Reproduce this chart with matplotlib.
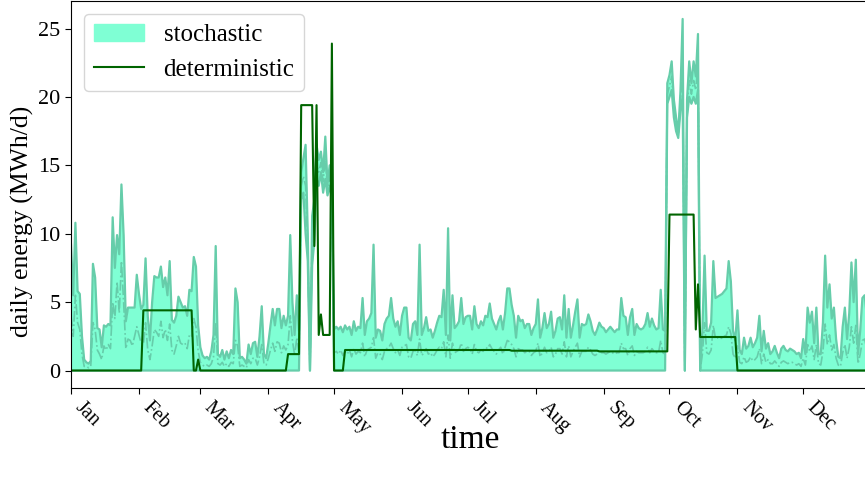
import numpy as np
import pandas as pd
import matplotlib
matplotlib.use("Agg")
import matplotlib.pyplot as plt
import matplotlib.dates as mdates
from matplotlib.patches import Patch
from matplotlib.lines import Line2D

plt.rcParams['font.family'] = ['Liberation Serif', 'DejaVu Serif']

days = pd.date_range('2019-01-01', '2019-12-31', freq='D')

# stochastic upper envelope, one list per month (MWh/d)
up_jan = [9.2, 5.5, 10.8, 5.8, 5.6, 2.5, 0.8, 0.6, 0.5, 0.7, 7.8, 6.8, 3.1, 3.0, 1.7, 3.3,
          3.2, 3.4, 3.3, 11.2, 7.5, 9.9, 8.5, 13.6, 9.9, 3.6, 4.6, 4.6, 4.6, 4.6, 7.0]
up_feb = [5.6, 4.5, 4.8, 8.2, 4.0, 2.2, 5.0, 6.9, 6.8, 6.8, 7.6, 6.1, 6.8, 5.5, 8.0, 3.7,
          3.5, 4.0, 5.4, 5.0, 4.6, 4.7, 4.0, 5.9, 5.8, 8.3, 7.6, 3.3]
up_mar = [1.7, 1.1, 0.9, 1.0, 0.8, 1.4, 2.6, 9.1, 1.2, 1.0, 1.5, 0.8, 1.4, 0.9, 1.5, 1.2,
          6.0, 5.0, 0.9, 1.0, 0.8, 0.5, 1.9, 1.2, 2.0, 2.1, 1.0, 2.5, 4.7, 1.2, 0.9]
up_apr = [2.0, 3.3, 4.5, 3.3, 4.5, 4.5, 3.1, 4.0, 3.3, 4.0, 9.9, 5.0, 2.6, 5.5, 2.9, 14.5,
          15.5, 16.5, 10.0, 0.0, 11.3, 12.5, 16.5, 15.4, 16.0, 14.5, 17.1, 13.6, 15.0, 13.5]
up_may = [3.0, 3.2, 3.0, 3.2, 2.8, 3.3, 3.0, 3.2, 2.6, 3.6, 2.9, 3.2, 3.1, 5.3, 2.6, 3.6,
          3.8, 4.2, 9.2, 2.4, 3.0, 2.9, 2.2, 3.4, 3.8, 4.0, 5.3, 3.8, 3.2, 3.6, 2.6]
up_jun = [4.0, 4.6, 4.6, 2.4, 2.2, 3.4, 3.6, 2.6, 9.2, 2.6, 3.1, 3.9, 2.9, 3.0, 2.4, 2.9,
          3.5, 4.0, 3.9, 5.9, 2.6, 10.4, 2.2, 5.5, 3.1, 3.3, 3.6, 5.3, 3.4, 3.9]
up_jul = [4.0, 4.0, 3.0, 4.7, 3.4, 3.1, 3.6, 3.3, 4.0, 3.9, 4.9, 3.8, 3.4, 3.0, 3.6, 4.0,
          3.0, 4.2, 6.0, 6.0, 4.8, 4.0, 2.4, 4.0, 3.6, 3.7, 3.1, 3.4, 3.4, 2.6, 3.1]
up_aug = [3.4, 5.2, 2.4, 3.1, 4.2, 3.1, 3.4, 4.3, 2.4, 2.9, 3.8, 3.9, 3.0, 5.5, 2.4, 4.5,
          2.4, 3.3, 4.3, 5.2, 2.4, 3.4, 3.3, 3.4, 4.1, 3.6, 2.9, 2.6, 3.0, 3.5, 3.2]
up_sep = [3.1, 2.8, 3.0, 3.2, 3.0, 2.8, 3.0, 3.0, 5.3, 4.0, 3.9, 2.6, 3.9, 4.5, 2.6, 3.4,
          3.1, 3.0, 3.1, 3.4, 4.2, 3.2, 3.8, 3.3, 3.0, 3.1, 5.9, 3.0, 2.9, 21.0]
up_oct = [21.6, 22.6, 19.8, 18.5, 17.4, 20.4, 25.7, 0.0, 19.8, 22.6, 21.0, 22.6, 21.5, 24.6,
          0.0, 2.9, 8.4, 2.9, 2.9, 3.5, 8.0, 5.3, 5.4, 5.5, 5.6, 5.8, 6.0, 8.0, 6.5, 2.9, 2.2]
up_nov = [4.4, 1.5, 1.2, 2.4, 1.6, 1.8, 2.4, 1.7, 2.0, 2.4, 4.0, 1.4, 2.9, 1.6, 2.0, 1.2,
          1.4, 1.8, 1.3, 0.9, 1.6, 1.8, 1.5, 1.4, 1.6, 1.5, 1.4, 1.2, 1.3, 0.9]
up_dec = [2.3, 1.2, 4.6, 3.5, 4.3, 2.0, 4.6, 1.2, 1.2, 3.5, 8.4, 4.6, 6.3, 3.8, 4.6, 2.3,
          1.0, 0.9, 3.2, 4.6, 2.3, 4.2, 7.9, 5.0, 8.1, 1.2, 2.9, 5.3, 5.5, 4.0, 3.0]

# stochastic median (dash-dot)
med_jan = [4.0, 2.5, 5.5, 3.5, 3.0, 1.2, 0.3, 0.3, 0.2, 0.3, 3.5, 3.0, 1.5, 1.2, 0.8, 1.8,
           1.5, 1.9, 1.6, 5.0, 3.8, 6.5, 4.2, 8.0, 5.0, 1.6, 2.3, 2.2, 1.8, 2.5, 3.2]
med_feb = [2.6, 2.0, 1.9, 3.5, 1.5, 0.8, 1.8, 3.0, 2.8, 2.5, 3.6, 2.4, 3.0, 2.2, 3.4, 1.5,
           1.2, 1.8, 2.5, 2.0, 1.9, 2.0, 1.6, 2.6, 2.5, 3.8, 3.2, 1.4]
med_mar = [0.6, 0.4, 0.3, 0.4, 0.3, 0.5, 1.0, 3.5, 0.5, 0.4, 0.6, 0.3, 0.5, 0.3, 0.6, 0.5,
           2.2, 1.8, 0.3, 0.4, 0.3, 0.2, 0.8, 0.5, 0.9, 0.9, 0.4, 1.0, 1.9, 0.5, 0.4]
med_apr = [0.9, 1.5, 2.0, 1.4, 2.1, 2.0, 1.3, 1.8, 1.5, 1.9, 4.0, 2.2, 1.1, 2.4, 1.2, 13.5,
           14.2, 13.5, 9.0, 0.0, 10.0, 11.0, 15.0, 14.5, 15.2, 13.8, 15.5, 13.2, 14.2, 13.0]
med_may = [1.3, 1.4, 1.2, 1.5, 1.1, 1.4, 1.2, 1.5, 1.0, 1.6, 1.2, 1.4, 1.3, 2.0, 1.0, 1.5,
           1.6, 1.7, 2.4, 0.9, 1.3, 1.2, 0.8, 1.4, 1.6, 1.7, 2.0, 1.6, 1.3, 1.5, 1.1]
med_jun = [1.7, 1.8, 1.9, 1.0, 0.9, 1.4, 1.5, 1.1, 2.3, 1.1, 1.3, 1.6, 1.2, 1.3, 1.0, 1.2,
           1.5, 1.7, 1.6, 2.1, 1.0, 2.6, 0.9, 2.0, 1.3, 1.4, 1.5, 2.0, 1.4, 1.6]
med_jul = [1.7, 1.6, 1.2, 1.9, 1.4, 1.3, 1.5, 1.4, 1.7, 1.6, 1.9, 1.6, 1.4, 1.2, 1.5, 1.7,
           1.2, 1.7, 2.2, 2.1, 1.9, 1.6, 1.0, 1.6, 1.5, 1.5, 1.3, 1.4, 1.4, 1.1, 1.3]
med_aug = [1.4, 2.0, 1.0, 1.3, 1.7, 1.3, 1.4, 1.7, 1.0, 1.2, 1.6, 1.6, 1.2, 2.1, 1.0, 1.8,
           1.0, 1.4, 1.7, 2.0, 1.0, 1.4, 1.4, 1.4, 1.7, 1.5, 1.2, 1.1, 1.2, 1.5, 1.3]
med_sep = [1.3, 1.2, 1.3, 1.4, 1.3, 1.2, 1.3, 1.3, 2.0, 1.6, 1.6, 1.1, 1.6, 1.8, 1.1, 1.4,
           1.3, 1.3, 1.3, 1.4, 1.7, 1.3, 1.6, 1.4, 1.3, 1.3, 2.2, 1.3, 1.2, 20.2]
med_oct = [20.8, 21.5, 19.2, 18.0, 17.2, 19.7, 22.5, 0.0, 19.2, 21.2, 20.2, 21.2, 20.5, 22.5,
           0.0, 1.2, 3.5, 1.3, 1.2, 1.5, 3.3, 2.3, 2.4, 2.3, 2.4, 2.5, 2.6, 3.2, 2.7, 1.2, 0.9]
med_nov = [1.8, 0.6, 0.5, 1.0, 0.6, 0.7, 1.0, 0.7, 0.8, 1.0, 1.6, 0.5, 1.2, 0.6, 0.8, 0.5,
           0.5, 0.7, 0.5, 0.3, 0.6, 0.7, 0.6, 0.5, 0.6, 0.6, 0.5, 0.4, 0.5, 0.3]
med_dec = [0.9, 0.4, 1.9, 1.4, 1.8, 0.8, 1.9, 0.5, 0.4, 1.4, 3.4, 1.9, 2.6, 1.5, 1.9, 0.9,
           0.4, 0.3, 1.3, 1.9, 0.9, 1.7, 3.2, 2.0, 3.3, 0.5, 1.2, 2.2, 2.3, 1.6, 1.2]

# lower envelope is zero except on these days (day of year, 0 = Jan 1)
low_days = [105, 106, 107, 108, 110, 111, 112, 113, 114, 115, 116, 117, 118, 119,
            272, 273, 274, 275, 276, 277, 278, 279, 281, 282, 283, 284, 285, 286]
low_vals = [12.5, 13.0, 10.0, 8.0, 7.7, 9.5, 14.0, 13.5, 14.5, 13.0, 14.0, 12.8, 13.5, 12.5,
            19.5, 20.0, 20.5, 18.5, 17.5, 17.0, 19.0, 20.0, 18.5, 20.0, 19.5, 20.0, 19.5, 20.5]

# deterministic schedule as (level, number of days) runs
det_levels = [0.0, 4.4, 0.0, 0.8, 0.0, 1.2, 19.4, 9.1, 19.4, 2.6, 4.1, 2.6, 23.9, 0.0,
              1.5, 1.45, 1.4, 11.4, 3.0, 6.3, 2.45, 0.0]
det_runs = [33, 23, 2, 1, 40, 6, 6, 1, 1, 1, 1, 4, 1, 5,
            76, 40, 32, 12, 1, 1, 17, 61]

upper = np.array(up_jan + up_feb + up_mar + up_apr + up_may + up_jun +
                 up_jul + up_aug + up_sep + up_oct + up_nov + up_dec)
median = np.array(med_jan + med_feb + med_mar + med_apr + med_may + med_jun +
                  med_jul + med_aug + med_sep + med_oct + med_nov + med_dec)
lower = np.zeros(len(days))
lower[low_days] = low_vals
determ = np.repeat(det_levels, det_runs)

fig = plt.figure(figsize=(8.65, 4.84), dpi=100)
ax = fig.add_axes([0.0821, 0.198, 0.9225, 0.7996])

ax.fill_between(days, lower, upper, color='aquamarine', lw=0)
ax.plot(days, upper, color='mediumaquamarine', lw=1.6)
ax.plot(days, lower, color='mediumaquamarine', lw=1.6)
ax.plot(days, median, color='mediumaquamarine', lw=1.2, ls='-.')
ax.plot(days, determ, color='darkgreen', lw=1.5)

ax.set_xlim(days[0], days[-1])
ax.set_ylim(-1.29, 27.0)
ax.set_yticks([0, 5, 10, 15, 20, 25])
ax.xaxis.set_major_locator(mdates.MonthLocator())
ax.xaxis.set_major_formatter(mdates.DateFormatter('%b'))
ax.tick_params(labelsize=16, length=4)
ax.tick_params(axis='x', labelsize=14.5)
plt.setp(ax.get_xticklabels(), rotation=-45, ha='left', va='top')

ax.set_xlabel('time', fontsize=24)
ax.xaxis.set_label_coords(0.5, -0.095)
ax.set_ylabel('daily energy (MWh/d)', fontsize=18.5)
ax.yaxis.set_label_coords(-0.046, 0.43)

handles = [Patch(color='aquamarine', label='stochastic'),
           Line2D([], [], color='darkgreen', lw=1.5, label='deterministic')]
ax.legend(handles=handles, loc='upper left', fontsize=18)

fig.savefig('out.png', dpi=100)
